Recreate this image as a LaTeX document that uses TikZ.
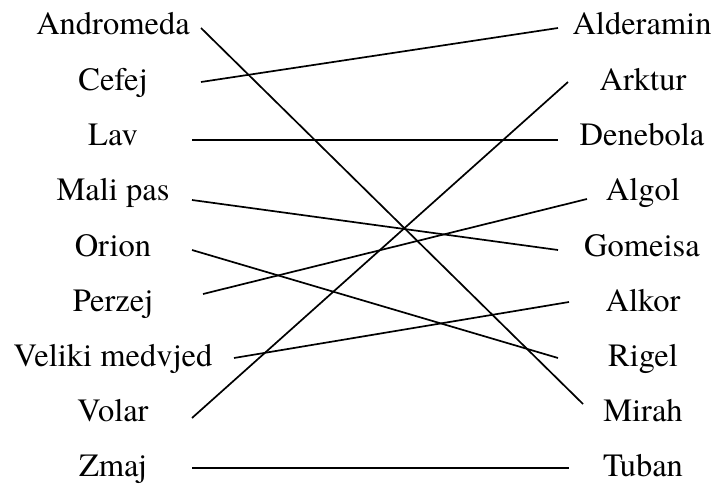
\documentclass[tikz,border=0pt]{standalone}
\usepackage{fontspec}
\setmainfont{texgyretermes-regular.otf}
\begin{document}
\begin{tikzpicture}[x=1pt,y=-1pt,
  label/.style={anchor=base,inner sep=0pt,font=\fontsize{32.5}{38}\selectfont},
  link/.style={line width=1.7pt,black}]
\useasboundingbox (0,0) rectangle (714,489);
% left column
\node[label] (andromeda) at (113,35) {Andromeda};
\node[label] (cefej)     at (113,90.5) {Cefej};
\node[label] (lav)       at (113,145.5) {Lav};
\node[label] (malipas)   at (113,200.8) {Mali pas};
\node[label] (orion)     at (113,256) {Orion};
\node[label] (perzej)    at (113,311) {Perzej};
\node[label] (veliki)    at (113,366.3) {Veliki medvjed};
\node[label] (volar)     at (113,421.5) {Volar};
\node[label] (zmaj)      at (113,476.8) {Zmaj};
% right column
\node[label] (alderamin) at (642,35) {Alderamin};
\node[label] (arktur)    at (643,90.5) {Arktur};
\node[label] (denebola)  at (642,145.5) {Denebola};
\node[label] (algol)     at (643,200.8) {Algol};
\node[label] (gomeisa)   at (642,256) {Gomeisa};
\node[label] (alkor)     at (643,311) {Alkor};
\node[label] (rigel)     at (643,366.3) {Rigel};
\node[label] (mirah)     at (643,421.5) {Mirah};
\node[label] (tuban)     at (643,476.8) {Tuban};
% line end points beside the labels
\coordinate (andromeda-e) at (201,28);
\coordinate (cefej-e)     at (201,82);
\coordinate (lav-e)       at (192,140);
\coordinate (malipas-e)   at (192,200);
\coordinate (orion-e)     at (192,250);
\coordinate (perzej-e)    at (203,294);
\coordinate (veliki-e)    at (234,358);
\coordinate (volar-e)     at (192,418);
\coordinate (zmaj-e)      at (192,468);
\coordinate (alderamin-w) at (558,28);
\coordinate (arktur-w)    at (568,82);
\coordinate (denebola-w)  at (558,140);
\coordinate (algol-w)     at (587,199);
\coordinate (gomeisa-w)   at (558,250);
\coordinate (alkor-w)     at (569,302);
\coordinate (rigel-w)     at (558,358);
\coordinate (mirah-w)     at (583,404);
\coordinate (tuban-w)     at (569,468);
% pairings
\draw[link] (andromeda-e) -- (mirah-w);
\draw[link] (cefej-e) -- (alderamin-w);
\draw[link] (lav-e) -- (denebola-w);
\draw[link] (malipas-e) -- (gomeisa-w);
\draw[link] (orion-e) -- (rigel-w);
\draw[link] (perzej-e) -- (algol-w);
\draw[link] (veliki-e) -- (alkor-w);
\draw[link] (volar-e) -- (arktur-w);
\draw[link] (zmaj-e) -- (tuban-w);
\end{tikzpicture}
\end{document}
